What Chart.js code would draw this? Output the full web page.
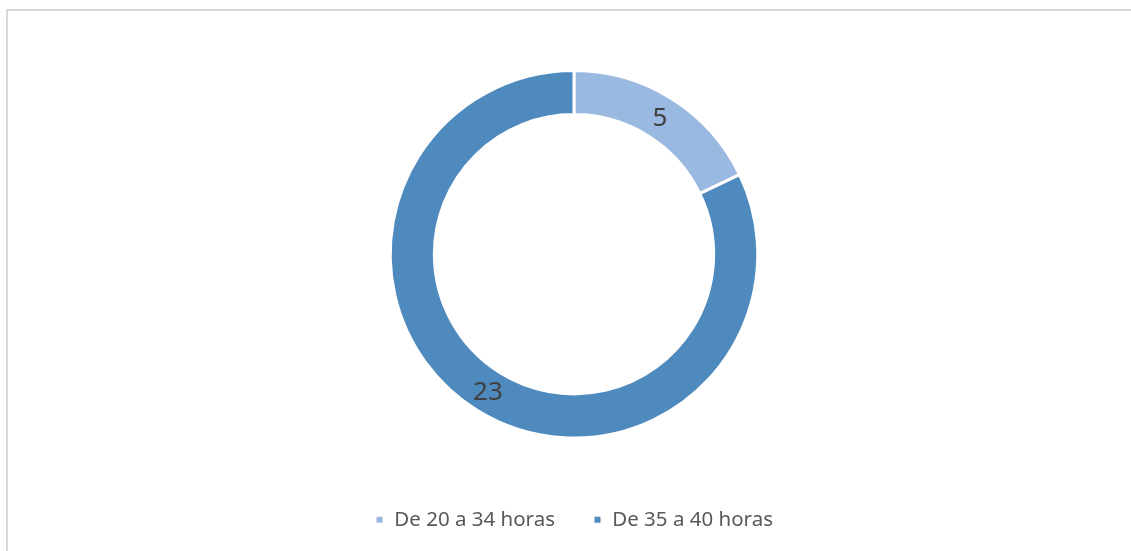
<!DOCTYPE html>
<html>
<head>
<meta charset="utf-8">
<script src="https://cdn.jsdelivr.net/npm/chart.js@4"></script>
<style>
  html, body { margin: 0; padding: 0; background: #fff; overflow: hidden; }
  #frame {
    position: absolute; left: 6px; top: 9px; width: 1200px; height: 600px;
    border-left: 2px solid #d9d9d9; border-top: 2px solid #d9d9d9;
  }
  #wrap { position: absolute; left: 0; top: 0; width: 1131px; height: 540px; }
</style>
</head>
<body>
<div id="frame"></div>
<div id="wrap"><canvas id="chart"></canvas></div>
<script>
// Dados do gráfico
const categorias = ['De 20 a 34 horas', 'De 35 a 40 horas'];
const valores = [5, 23];
const cores = ['#9ab9e0', '#4f8abe'];

// Rótulos de valor no meio de cada fatia
const rotulosPlugin = {
  id: 'rotulos',
  afterDatasetsDraw(chart) {
    const ctx = chart.ctx;
    const meta = chart.getDatasetMeta(0);
    ctx.save();
    ctx.font = '26px "Noto Sans"';
    ctx.fillStyle = '#404040';
    ctx.textAlign = 'center';
    ctx.textBaseline = 'middle';
    meta.data.forEach((arc, i) => {
      const pos = arc.tooltipPosition();
      ctx.fillText(String(valores[i]), pos.x, pos.y + 1);
    });
    ctx.restore();
  }
};

new Chart(document.getElementById('chart'), {
  type: 'doughnut',
  data: {
    labels: categorias,
    datasets: [{
      data: valores,
      backgroundColor: cores,
      borderColor: '#ffffff',
      borderWidth: 3,
      hoverOffset: 0
    }]
  },
  options: {
    responsive: true,
    maintainAspectRatio: false,
    animation: false,
    cutout: '76%',
    layout: { padding: { top: 69, bottom: 0, left: 17, right: 0 } },
    plugins: {
      tooltip: { enabled: false },
      legend: {
        position: 'bottom',
        title: { display: true, text: '', font: { size: 10 }, padding: { top: 20, bottom: 0 } },
        labels: {
          boxWidth: 9,
          boxHeight: 9,
          padding: 38,
          color: '#595959',
          font: { family: '"Noto Sans"', size: 20.5 }
        }
      }
    }
  },
  plugins: [rotulosPlugin]
});
</script>
</body>
</html>
